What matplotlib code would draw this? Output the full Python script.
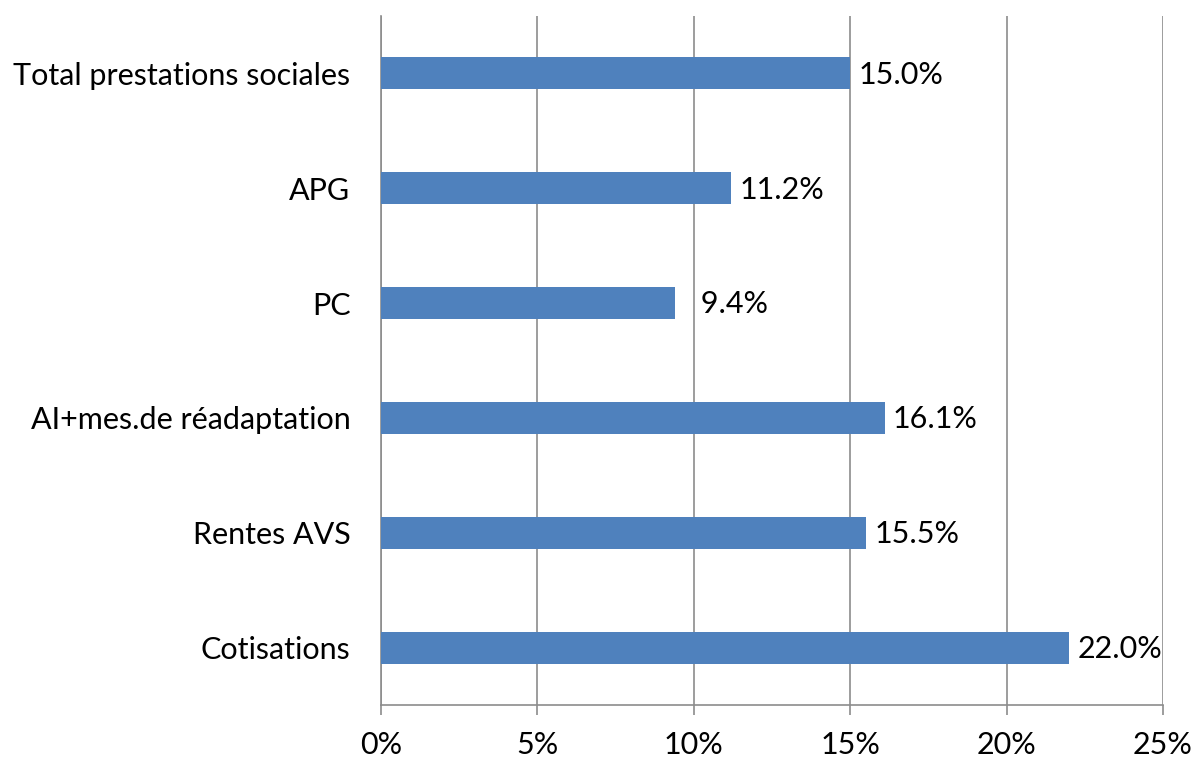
import matplotlib
matplotlib.use("Agg")
import matplotlib.pyplot as plt
from matplotlib.ticker import FuncFormatter

categories = ["Cotisations", "Rentes AVS", "AI+mes.de réadaptation", "PC", "APG",
              "Total prestations sociales"]
values = [22.0, 15.5, 16.1, 9.4, 11.2, 15.0]

plt.rcParams['font.family'] = ['Lato', 'DejaVu Sans']
grid_col = "#8c8c8c"
fs = 22

fig = plt.figure(figsize=(11.94, 7.6), dpi=100)
ax = fig.add_axes([381 / 1194, 1 - 705 / 760, 782 / 1194, 689 / 760])

y = range(len(categories))
ax.barh(y, values, height=0.28, color="#4F81BD", zorder=3)

for yi, v in zip(y, values):
    label = f"{v:.1f}%".rjust(5, "\u2007")
    ax.annotate(label, (v, yi), xytext=(6, -1), textcoords="offset points",
                va="center", ha="left", fontsize=fs, color="black")

ax.set_xlim(0, 25)
ax.set_ylim(-0.5, len(categories) - 0.5)
ax.set_xticks([0, 5, 10, 15, 20, 25])
ax.xaxis.set_major_formatter(FuncFormatter(lambda v, p: f"{v:.0f}%"))
ax.set_yticks(list(y))
ax.set_yticklabels(categories)

ax.grid(axis="x", color=grid_col, linewidth=1.2, zorder=0)
ax.tick_params(axis="x", direction="out", length=7, width=1.2, color=grid_col,
               labelsize=fs, pad=12)
ax.tick_params(axis="y", length=0, labelsize=fs, pad=22)

for s in ["top", "right"]:
    ax.spines[s].set_visible(False)
for s in ["left", "bottom"]:
    ax.spines[s].set_color(grid_col)
    ax.spines[s].set_linewidth(1.2)

fig.savefig("out.png", dpi=100)
